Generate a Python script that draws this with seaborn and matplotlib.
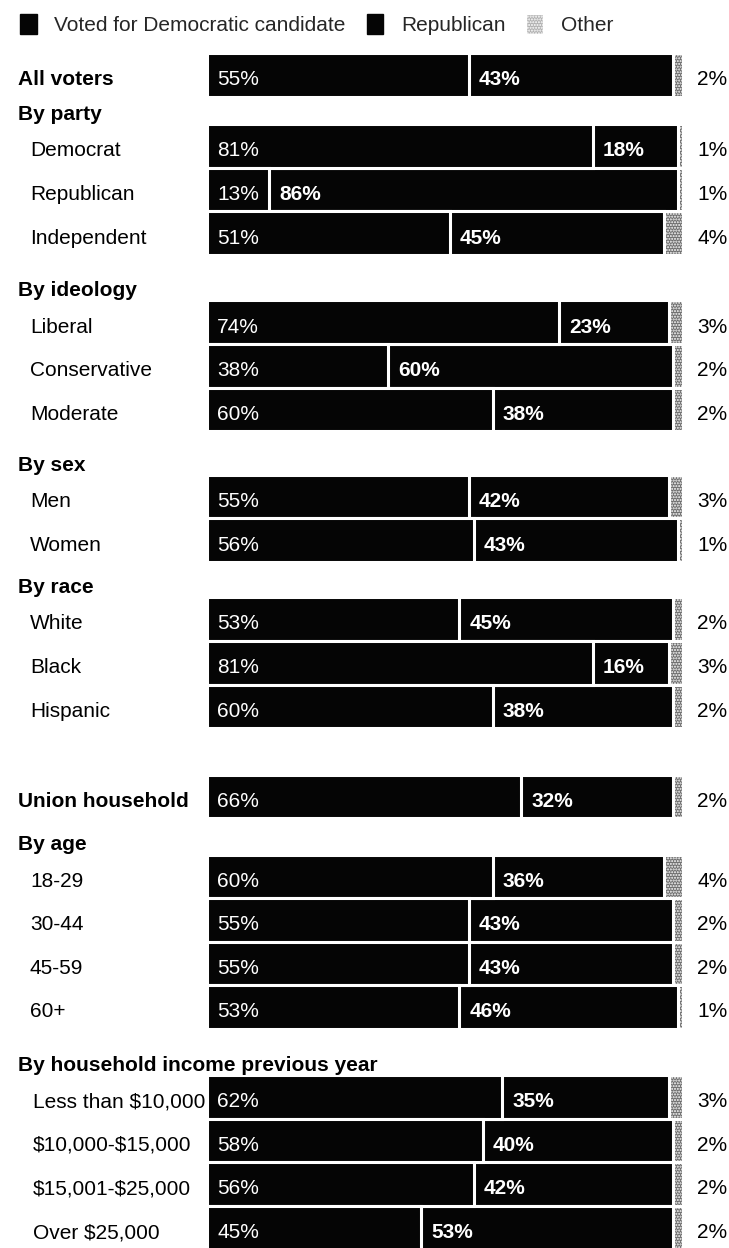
import numpy as np
import pandas as pd
import matplotlib
matplotlib.use("Agg")
import matplotlib.pyplot as plt
import matplotlib.transforms as mtransforms
from matplotlib.patches import Patch
import seaborn as sns

# ---------------- data ----------------
categories = ["All voters", "Democrat", "Republican", "Independent",
              "Liberal", "Conservative", "Moderate", "Men", "Women",
              "White", "Black", "Hispanic", "Union household",
              "18-29", "30-44", "45-59", "60+",
              "Less than $10,000", "$10,000-$15,000", "$15,001-$25,000", "Over $25,000"]
group_of = [None, "By party", "By party", "By party",
            "By ideology", "By ideology", "By ideology", "By sex", "By sex",
            "By race", "By race", "By race", None,
            "By age", "By age", "By age", "By age",
            "By household income previous year", "By household income previous year",
            "By household income previous year", "By household income previous year"]
dem = [55, 81, 13, 51, 74, 38, 60, 55, 56, 53, 81, 60, 66, 60, 55, 55, 53, 62, 58, 56, 45]
rep = [43, 18, 86, 45, 23, 60, 38, 42, 43, 45, 16, 38, 32, 36, 43, 43, 46, 35, 40, 42, 53]
other = [2, 1, 1, 4, 3, 2, 2, 3, 1, 2, 3, 2, 2, 4, 2, 2, 1, 3, 2, 2, 2]
legend_labels = ["Voted for Democratic candidate", "Republican", "Other"]

# ---------------- layout ----------------
W, H, DPI = 729, 1248, 100
PITCH = 43.6          # px per row
ROW0 = 75             # px centre of first row
X0, PXPCT = 207, 4.76  # bar origin px, px per percent
BREAKS = [1.63, 2.04, 2.0, 1.81, 2.07, 1.83, 2.06]  # spacing (in rows) at each section break

ypos, header_pos = [], []
y = 0.0
prev_group = "__start__"
k = 0
for i, (cat, g) in enumerate(zip(categories, group_of)):
    if i > 0:
        if g is None or g != prev_group:
            y += BREAKS[k]
            k += 1
            if g is not None:
                header_pos.append((g, y - 0.83))
        else:
            y += 1.0
    ypos.append(y)
    prev_group = g

df = pd.DataFrame({"cat": categories, "y": ypos, "dem": dem, "rep": rep, "other": other})
df["dr"] = df["dem"] + df["rep"]
df["total"] = df["dr"] + df["other"]

sns.set_style("white")
FONT = "Liberation Sans"
plt.rcParams["font.family"] = [FONT, "DejaVu Sans"]
plt.rcParams["text.parse_math"] = False
FS = 15

fig = plt.figure(figsize=(W / DPI, H / DPI), dpi=DPI)
ax = fig.add_axes([0, 0, 1, 1])

BLACK = "#050505"
GRAY = "#6e6e6e"
LW = 2.2
common = dict(orient="h", native_scale=True, width=1.0, edgecolor="white",
              linewidth=LW, saturation=1, ax=ax, errorbar=None)
sns.barplot(data=df, x="total", y="y", color=GRAY, **common)
for p in ax.containers[0]:
    p.set_hatch("......")
sns.barplot(data=df, x="dr", y="y", color=BLACK, **common)
sns.barplot(data=df, x="dem", y="y", color=BLACK, **common)

ax.set_xlim(-X0 / PXPCT, (W - X0) / PXPCT)
ax.set_ylim((H - ROW0) / PITCH, -ROW0 / PITCH)
ax.axis("off")

# ---------------- texts ----------------
fig_y = mtransforms.blended_transform_factory(fig.transFigure, ax.transData)
in_bar = mtransforms.offset_copy(ax.transData, fig=fig, x=10, y=0, units="dots")
DY = 0.11

for i, r in df.iterrows():
    yy = r["y"] + DY
    g = group_of[i]
    if g is None:
        ax.text(18 / W, yy, r["cat"], transform=fig_y, fontsize=FS, fontweight="bold",
                va="center", ha="left", color="black")
    else:
        lx = 33 if g.startswith("By household") else 30
        ax.text(lx / W, yy, r["cat"], transform=fig_y, fontsize=FS,
                va="center", ha="left", color="black")
    ax.text(0, yy, f"{r['dem']}%", transform=in_bar, fontsize=FS, color="white",
            va="center", ha="left")
    ax.text(r["dem"], yy, f"{r['rep']}%", transform=in_bar, fontsize=FS, color="white",
            fontweight="bold", va="center", ha="left")
    ax.text(697 / W, yy, f"{r['other']}%", transform=fig_y, fontsize=FS,
            va="center", ha="left", color="black")

for name, hy in header_pos:
    ax.text(18 / W, hy + DY, name, transform=fig_y, fontsize=FS, fontweight="bold",
            va="center", ha="left", color="black")

handles = [Patch(facecolor=BLACK, edgecolor=BLACK),
           Patch(facecolor=BLACK, edgecolor=BLACK),
           Patch(facecolor="#b0b0b0", edgecolor="white", hatch="......")]
fig.legend(handles, legend_labels, loc="upper left", bbox_to_anchor=(20 / W, 1 - 14 / H),
           ncol=3, frameon=False, fontsize=FS, handlelength=0.8, handleheight=1.1,
           handletextpad=0.85, columnspacing=1.0, borderpad=0, borderaxespad=0)

fig.savefig("out.png", dpi=DPI)
